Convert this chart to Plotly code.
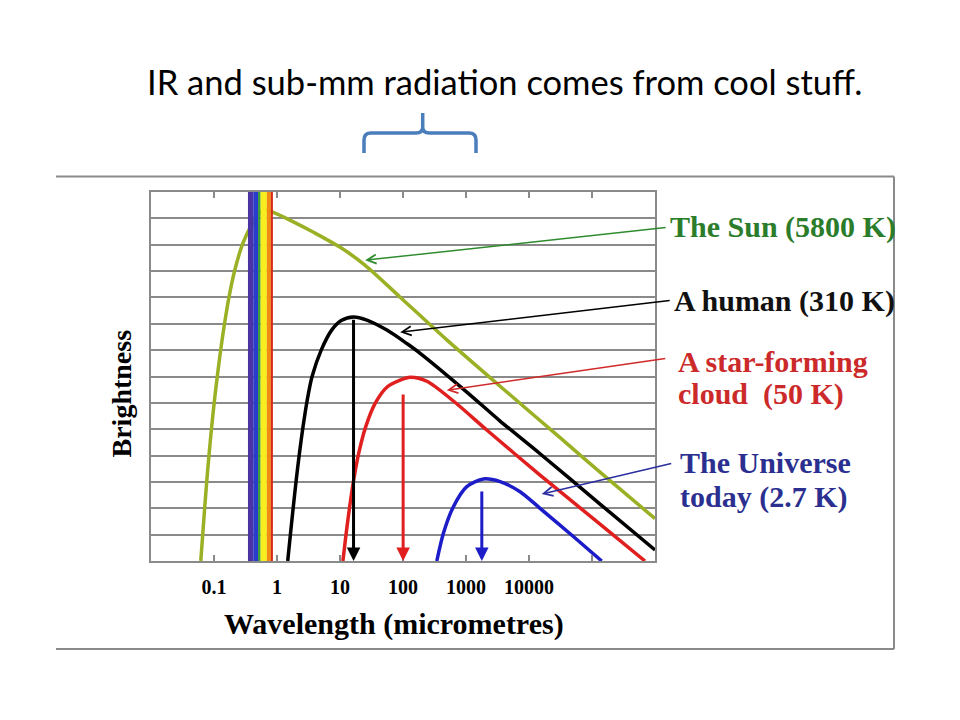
import numpy as np
import plotly.graph_objects as go

# ---------------- data (wavelength in micrometres, brightness in grid units) -------------
sun_wl = [0.0617, 0.0664, 0.0714, 0.0770, 0.0838, 0.0918, 0.1017, 0.1126, 0.1275, 0.1471,
          0.1733, 0.2135, 0.2858, 0.4045, 0.604, 0.871, 1.436, 3.80, 10.07, 25.1, 90.1,
          501, 3475, 31100, 134000, 1000000]
sun_br = [0, 1.05, 2.06, 3.07, 4.08, 5.09, 6.10, 6.99, 8.00, 9.01,
          10.02, 11.03, 12.04, 12.78, 13.31, 13.23, 12.99, 12.47, 11.90, 11.22, 10.01,
          8.38, 6.63, 4.68, 3.37, 1.61]

hum_wl = [1.479, 1.639, 1.815, 2.018, 2.268, 2.587, 3.016, 3.594, 5.03, 7.38, 10.44, 16.37,
          26.7, 55.5, 115.1, 187.1, 1030, 3475, 14970, 134000, 1000000]
hum_br = [0, 1.05, 2.06, 3.07, 4.08, 5.09, 6.10, 6.99, 8.00, 8.76, 9.12, 9.26,
          9.14, 8.76, 8.25, 7.88, 6.41, 5.31, 4.07, 2.16, 0.42]

cld_wl = [11.12, 12.53, 14.24, 16.48, 19.79, 25.55, 36.14, 56.03, 90.1, 129.8, 238.8, 631,
          2138, 14970, 134000, 693000]
cld_br = [0, 1.05, 2.06, 3.07, 4.08, 5.09, 5.98, 6.60, 6.86, 6.97, 6.82, 6.07,
          4.97, 3.26, 1.40, 0]

uni_wl = [344, 438, 631, 1030, 1888, 3475, 7211, 14970, 50560, 142600]
uni_br = [0, 1.05, 2.06, 2.82, 3.11, 3.01, 2.63, 2.00, 0.93, 0]

peak_wl = [16.4, 100.5, 1782]        # wavelengths of the peak-marker arrows
peak_top = [9.21, 6.37, 2.69]        # brightness at which the arrows start

band_edges = [0.346, 0.42, 0.50, 0.55, 0.69, 0.80, 0.861]
band_colors = ["#4b33a6", "#2a3ccc", "#3a9e35", "#f6ee1e", "#f08a12", "#d8281c"]

tick_vals = [0.01, 0.1, 1, 10, 100, 1000, 10000, 100000, 1000000]
tick_text = ["", "0.1", "1", "10", "100", "1000", "10000", "", ""]

labels = ["The Sun (5800 K)", "A human (310 K)", "A star-forming", "cloud\u00a0 (50 K)",
          "The Universe", "today (2.7 K)"]

title_text = "IR and sub-mm radiation comes from cool stuff."
x_title = "Wavelength (micrometres)"
y_title = "Brightness"

# ---------------- styling ----------------
SUN_C, HUM_C, CLD_C, UNI_C = "#9bb024", "#000000", "#e01f1f", "#1c1cc8"
SUN_T, HUM_T, CLD_T, UNI_T = "#2b7d2b", "#111111", "#cc2a2a", "#2b2f8f"
GRID = "#8a8a8a"
SERIF = "Liberation Serif"

L, T, W, H = 151, 192, 504, 369


def px(x):
    return (x - L) / W


def py(y):
    return (T + H - y) / H


fig = go.Figure()

line_kw = dict(width=3.5, shape="spline", smoothing=0.8)
fig.add_trace(go.Scatter(x=sun_wl, y=sun_br, mode="lines",
                         line=dict(color=SUN_C, **line_kw), hoverinfo="skip"))

for i in range(len(band_colors)):
    x0, x1 = band_edges[i], band_edges[i + 1]
    fig.add_trace(go.Scatter(x=[x0, x1, x1, x0, x0], y=[0, 0, 14, 14, 0], mode="lines",
                             fill="toself", fillcolor=band_colors[i],
                             line=dict(width=0, color=band_colors[i]), hoverinfo="skip"))

for wl, br, c in [(hum_wl, hum_br, HUM_C), (cld_wl, cld_br, CLD_C), (uni_wl, uni_br, UNI_C)]:
    fig.add_trace(go.Scatter(x=wl, y=br, mode="lines", line=dict(color=c, **line_kw),
                             hoverinfo="skip"))

# peak marker arrows
for wl, top, c in zip(peak_wl, peak_top, [HUM_C, CLD_C, UNI_C]):
    fig.add_annotation(x=np.log10(wl), y=0, ax=np.log10(wl), ay=top, xref="x", yref="y",
                       axref="x", ayref="y", text="", showarrow=True, arrowhead=2,
                       arrowsize=0.9, arrowwidth=3, arrowcolor=c)

# label pointer arrows (head in data coords, tail offset in pixels)
pointers = [(1.399, 11.41, 302, -33, "#2e8b2e"),
            (1.955, 8.68, 271, -32, "#000000"),
            (2.695, 6.48, 220, -32, "#d02a2a"),
            (4.202, 2.54, 131, -31, "#2b2f9f")]
for hx, hy, ax, ay, c in pointers:
    fig.add_annotation(x=hx, y=hy, ax=ax, ay=ay, xref="x", yref="y", text="",
                       showarrow=True, arrowhead=5, arrowsize=1.2, arrowwidth=1.5,
                       arrowcolor=c)

# right-hand labels
label_pos = [(668, 227, SUN_T), (672, 301, HUM_T), (676, 361, CLD_T), (676, 394, CLD_T),
             (678, 462, UNI_T), (678, 497, UNI_T)]
for txt, (lx, ly, c) in zip(labels, label_pos):
    fig.add_annotation(x=px(lx), y=py(ly), xref="paper", yref="paper", text=txt,
                       showarrow=False, xanchor="left", yanchor="middle",
                       font=dict(family=SERIF, size=30, color=c, weight="bold"))

# axis titles
fig.add_annotation(x=px(393.5), y=py(624), xref="paper", yref="paper", text=x_title,
                   showarrow=False, xanchor="center", yanchor="middle",
                   font=dict(family=SERIF, size=30, color="black", weight="bold"))
fig.add_annotation(x=px(121), y=py(393.5), xref="paper", yref="paper", text=y_title,
                   showarrow=False, xanchor="center", yanchor="middle", textangle=-90,
                   font=dict(family=SERIF, size=28, color="black", weight="bold"))

# slide title
fig.add_annotation(x=px(504.5), y=py(81), xref="paper", yref="paper", text=title_text,
                   showarrow=False, xanchor="center", yanchor="middle",
                   font=dict(family="Lato", size=34.5, color="black"))

# curly bracket
def P(x, y):
    return f"{px(x):.5f},{py(y):.5f}"

brace = (f"M {P(364,153)} L {P(364,140)} Q {P(364,133)} {P(371,133)} L {P(416,133)} "
         f"Q {P(422.7,133)} {P(422.7,127)} L {P(422.7,113)} L {P(422.7,127)} "
         f"Q {P(422.7,133)} {P(429.4,133)} L {P(469,133)} Q {P(476,133)} {P(476,140)} "
         f"L {P(476,153)}")
fig.add_shape(type="path", path=brace, xref="paper", yref="paper",
              line=dict(color="#4a7ebb", width=3.5))

# picture frame
for (x0, y0, x1, y1) in [(56, 176.5, 894, 176.5), (894, 176.5, 894, 649), (56, 649, 894, 649)]:
    fig.add_shape(type="line", x0=px(x0), y0=py(y0), x1=px(x1), y1=py(y1),
                  xref="paper", yref="paper", line=dict(color="#8a8a8a", width=2))

fig.update_xaxes(type="log", range=[-2, 6], tickvals=tick_vals, ticktext=tick_text,
                 ticks="inside", ticklen=6, tickwidth=1.5, tickcolor="#8a8a8a",
                 showline=True, linecolor="#8a8a8a", linewidth=2, mirror="ticks",
                 showgrid=False, zeroline=False, ticklabelstandoff=7,
                 tickfont=dict(family=SERIF, size=20, color="black", weight="bold"))
fig.update_yaxes(range=[0, 14], tick0=0, dtick=1, showticklabels=False, ticks="",
                 showgrid=True, gridcolor=GRID, gridwidth=2, showline=True,
                 linecolor="#8a8a8a", linewidth=2, mirror=True, zeroline=False)

fig.update_layout(width=960, height=720, showlegend=False,
                  margin=dict(l=L, r=960 - L - W, t=T, b=720 - T - H),
                  plot_bgcolor="white", paper_bgcolor="white")

fig.write_html("out.html", config={"displayModeBar": False},
               post_script="document.body.style.margin='0';document.body.style.overflow='hidden';")
